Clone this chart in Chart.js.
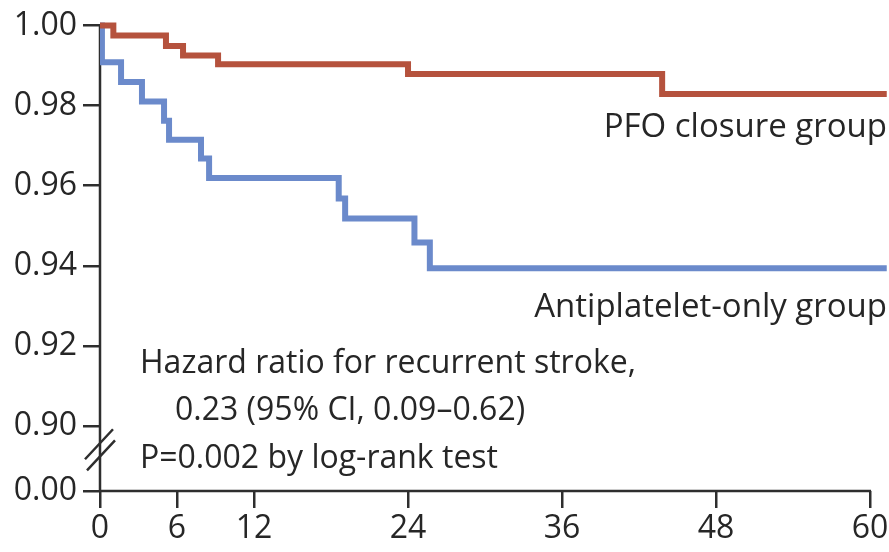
<!DOCTYPE html>
<html><head><meta charset="utf-8">
<script src="https://cdn.jsdelivr.net/npm/chart.js@4.4.1/dist/chart.umd.min.js"></script>
<style>html,body{margin:0;padding:0;background:#fff}#wrap{width:889px;height:552px}</style>
</head><body><div id="wrap"><canvas id="c" width="889" height="552"></canvas></div>
<script>
// ---- data (months, survival free of recurrent stroke) ----
const pfoMonths      = [0, 1.04, 5.14, 6.47, 9.2, 24.0, 43.8, 61.3];
const pfoSurvival    = [1.0, 0.9975, 0.9949, 0.9925, 0.9903, 0.9879, 0.9829, 0.9829];
const antiMonths     = [0, 0.15, 1.64, 3.27, 4.99, 5.38, 7.87, 8.5, 18.6, 19.1, 24.5, 25.7, 61.3];
const antiSurvival   = [1.0, 0.9908, 0.9859, 0.9810, 0.9762, 0.9715, 0.9668, 0.9619, 0.9568, 0.9518, 0.9458, 0.9394, 0.9394];
const seriesLabels   = ['PFO closure group', 'Antiplatelet-only group'];
const xTickValues    = [0, 6, 12, 24, 36, 48, 60];
const yTickLabels    = ['0.00', '0.90', '0.92', '0.94', '0.96', '0.98', '1.00'];
const annotationLines = ['Hazard ratio for recurrent stroke,', '0.23 (95% CI, 0.09\u20130.62)', 'P=0.002 by log-rank test'];

// ---- axis break: "0.00" sits just below 0.90 on a broken axis ----
const BREAK_BOTTOM = 0.90 - 0.0162;
const yTickValues = yTickLabels.map(l => l === '0.00' ? BREAK_BOTTOM : parseFloat(l));

const RED = '#b5523d', BLUE = '#6b8acb', INK = '#262626', AXIS = '#2e2e2e';
const FONT = '"Open Sans", "Noto Sans", sans-serif';

const toPts = (xs, ys) => xs.map((x, i) => ({x, y: ys[i]}));

const overlay = {
  id: 'overlay',
  beforeDatasetsDraw(chart) {
    const {ctx, chartArea: a, scales: {x, y}} = chart;
    ctx.save();
    ctx.strokeStyle = AXIS; ctx.lineWidth = 2.5; ctx.lineCap = 'butt';
    ctx.beginPath();
    ctx.moveTo(a.left, y.getPixelForValue(1.0) - 1);
    ctx.lineTo(a.left, a.bottom);
    ctx.moveTo(a.left, a.bottom);
    ctx.lineTo(x.getPixelForValue(60) + 1, a.bottom);
    ctx.stroke();
    // break marks
    const y90 = y.getPixelForValue(0.90), yb = a.bottom;
    const c1 = y90 + (yb - y90) * 0.28, c2 = y90 + (yb - y90) * 0.45;
    ctx.beginPath();
    ctx.moveTo(a.left - 15, c1 + 15); ctx.lineTo(a.left + 13, c1 - 15);
    ctx.moveTo(a.left - 13, c2 + 15); ctx.lineTo(a.left + 15, c2 - 15);
    ctx.stroke();
    ctx.restore();
  },
  afterDatasetsDraw(chart) {
    const {ctx, chartArea: a, scales: {x, y}} = chart;
    ctx.save();
    ctx.fillStyle = INK;
    ctx.font = '33px ' + FONT;
    ctx.textBaseline = 'alphabetic';
    ctx.textAlign = 'right';
    ctx.fillText(seriesLabels[0], a.right, y.getPixelForValue(pfoSurvival[pfoSurvival.length - 1]) + 43);
    ctx.fillText(seriesLabels[1], a.right, y.getPixelForValue(antiSurvival[antiSurvival.length - 1]) + 49);
    ctx.textAlign = 'left';
    ctx.font = '32px ' + FONT;
    const x0 = a.left + 40;
    ctx.fillText(annotationLines[0], x0, 373);
    ctx.fillText(annotationLines[1], x0 + 35, 420);
    ctx.fillText(annotationLines[2], x0, 468);
    ctx.restore();
  }
};

new Chart(document.getElementById('c'), {
  type: 'line',
  data: {
    datasets: [
      { label: seriesLabels[0], data: toPts(pfoMonths, pfoSurvival), borderColor: RED, borderWidth: 6,
        stepped: 'before', pointRadius: 0, fill: false, borderCapStyle: 'butt', borderJoinStyle: 'miter' },
      { label: seriesLabels[1], data: toPts(antiMonths, antiSurvival), borderColor: BLUE, borderWidth: 6,
        stepped: 'before', pointRadius: 0, fill: false, borderCapStyle: 'butt', borderJoinStyle: 'miter' }
    ]
  },
  options: {
    responsive: false, animation: false, devicePixelRatio: 1,
    layout: { padding: { left: 0, right: 2, top: 0, bottom: 0 } },
    plugins: { legend: { display: false }, tooltip: { enabled: false } },
    scales: {
      x: {
        type: 'linear', min: 0, max: 61.32,
        afterBuildTicks: s => { s.ticks = xTickValues.map(v => ({value: v})); },
        afterFit: s => { s.height = 61; s.paddingLeft = 0; s.paddingRight = 0; },
        ticks: { autoSkip: false, maxRotation: 0, color: INK, padding: 2,
                 font: { family: FONT, size: 32 }, callback: v => String(v) },
        grid: { drawOnChartArea: false, drawTicks: true, tickLength: 17, color: AXIS, lineWidth: 2.5 },
        border: { display: false }
      },
      y: {
        type: 'linear', min: BREAK_BOTTOM, max: 1.00636,
        afterBuildTicks: s => { s.ticks = yTickValues.map(v => ({value: v})); },
        afterFit: s => { s.width = 100; s.paddingTop = 0; s.paddingBottom = 0; },
        ticks: { autoSkip: false, color: INK, padding: 6,
                 font: { family: FONT, size: 32 }, callback: (v, i) => yTickLabels[i] },
        grid: { drawOnChartArea: false, drawTicks: true, tickLength: 17, color: AXIS, lineWidth: 2.5 },
        border: { display: false }
      }
    }
  },
  plugins: [overlay]
});
</script></body></html>
